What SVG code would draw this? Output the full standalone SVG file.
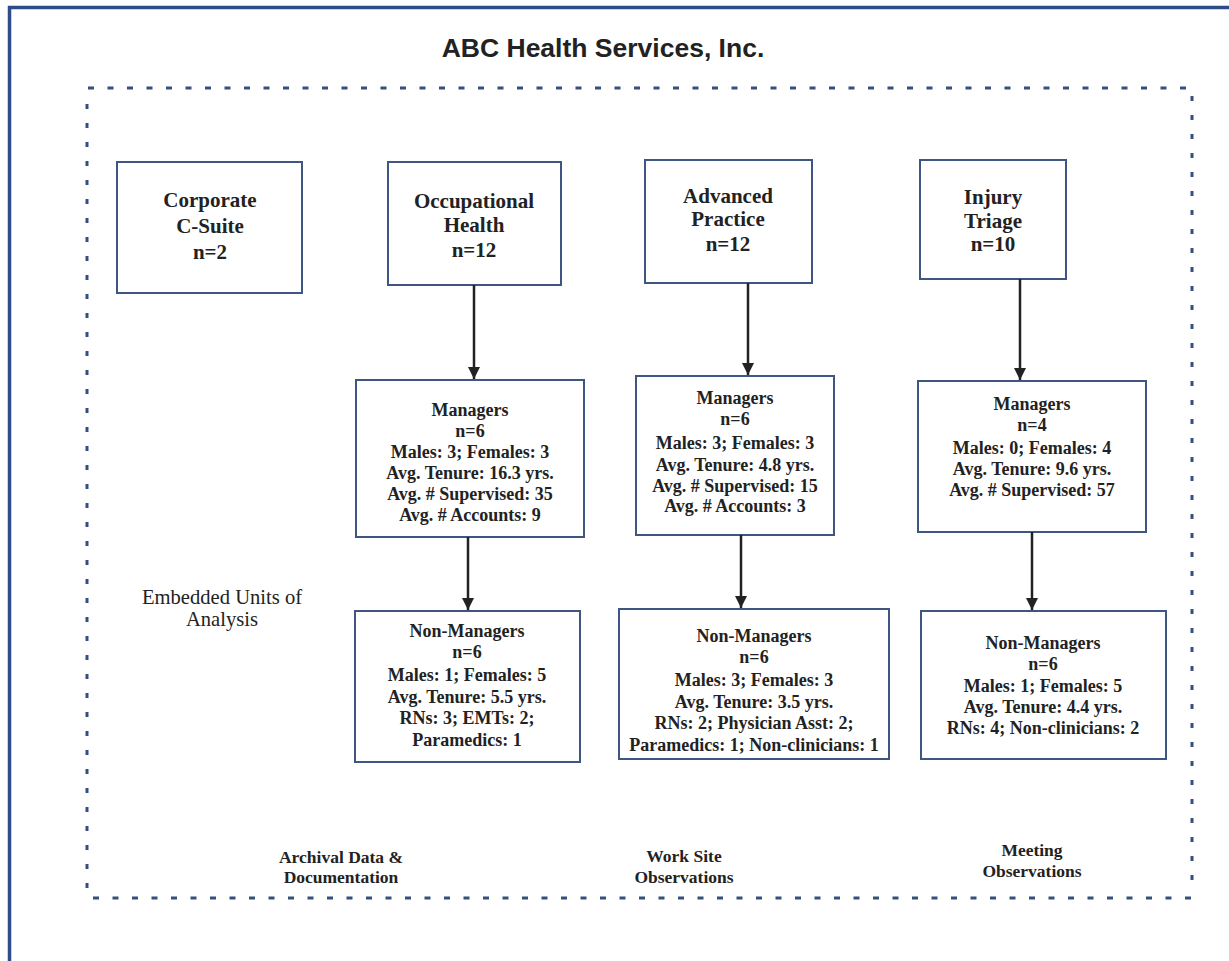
<svg xmlns="http://www.w3.org/2000/svg" width="1229" height="961" viewBox="0 0 1229 961">
<style>
.box{fill:#ffffff;stroke:#3f5683;stroke-width:2}
.t{font-family:"Liberation Serif","Times New Roman",serif;font-weight:bold;fill:#222;text-anchor:middle}
.h{font-size:21px}
.b{font-size:18px}
.s{font-size:17.5px}
.r{font-family:"Liberation Serif","Times New Roman",serif;font-size:20.6px;fill:#222;text-anchor:middle}
.title{font-family:"Liberation Sans",Arial,sans-serif;font-weight:bold;font-size:26.5px;fill:#222;text-anchor:middle}
.dh{stroke:#34507f;stroke-width:3;stroke-dasharray:6 13.5;fill:none}
.dv{stroke:#34507f;stroke-width:3;stroke-dasharray:5 14;fill:none}
.conn{stroke:#222;stroke-width:2.5;fill:none;marker-end:url(#ah)}
</style>
<defs>
<marker id="ah" viewBox="0 0 10 10" refX="10" refY="5" markerWidth="5" markerHeight="5" orient="auto" markerUnits="strokeWidth">
<path d="M0,0 L10,5 L0,10 z" fill="#222"/>
</marker>
</defs>
<rect x="0" y="0" width="1229" height="961" fill="#ffffff"/>
<rect x="9.5" y="7.5" width="1240" height="980" fill="none" stroke="#2e4c88" stroke-width="3.5"/>
<text class="title" x="603" y="57">ABC Health Services, Inc.</text>
<g id="frame">
<line class="dh" x1="88" y1="88" x2="1192" y2="88"/>
<line class="dh" x1="93" y1="898" x2="1192" y2="898"/>
<line class="dv" x1="87" y1="104" x2="87" y2="898"/>
<line class="dv" x1="1192" y1="96" x2="1192" y2="892"/>
</g>
<g id="corporate">
<rect class="box" x="117" y="162" width="185" height="131"/>
<text class="t h" x="210" y="207">Corporate</text>
<text class="t h" x="210" y="233">C-Suite</text>
<text class="t h" x="210" y="259">n=2</text>
</g>
<g id="occ-health">
<rect class="box" x="388" y="162" width="173" height="123"/>
<text class="t h" x="474" y="208">Occupational</text>
<text class="t h" x="474" y="232">Health</text>
<text class="t h" x="474" y="257">n=12</text>
</g>
<g id="adv-practice">
<rect class="box" x="645" y="160" width="167" height="123"/>
<text class="t h" x="728" y="203">Advanced</text>
<text class="t h" x="728" y="226">Practice</text>
<text class="t h" x="728" y="251">n=12</text>
</g>
<g id="injury-triage">
<rect class="box" x="920" y="160" width="146" height="119"/>
<text class="t h" x="993" y="204">Injury</text>
<text class="t h" x="993" y="228">Triage</text>
<text class="t h" x="993" y="251">n=10</text>
</g>
<g id="oh-managers">
<rect class="box" x="356" y="380" width="228" height="157"/>
<text class="t b" x="470" y="416">Managers</text>
<text class="t b" x="470" y="437">n=6</text>
<text class="t b" x="470" y="458">Males: 3; Females: 3</text>
<text class="t b" x="470" y="479">Avg. Tenure: 16.3 yrs.</text>
<text class="t b" x="470" y="500">Avg. # Supervised: 35</text>
<text class="t b" x="470" y="521">Avg. # Accounts: 9</text>
</g>
<g id="ap-managers">
<rect class="box" x="636" y="376" width="198" height="159"/>
<text class="t b" x="735" y="404">Managers</text>
<text class="t b" x="735" y="425">n=6</text>
<text class="t b" x="735" y="449">Males: 3; Females: 3</text>
<text class="t b" x="735" y="471">Avg. Tenure: 4.8 yrs.</text>
<text class="t b" x="735" y="492">Avg. # Supervised: 15</text>
<text class="t b" x="735" y="512">Avg. # Accounts: 3</text>
</g>
<g id="it-managers">
<rect class="box" x="918" y="381" width="228" height="151"/>
<text class="t b" x="1032" y="410">Managers</text>
<text class="t b" x="1032" y="431">n=4</text>
<text class="t b" x="1032" y="454">Males: 0; Females: 4</text>
<text class="t b" x="1032" y="475">Avg. Tenure: 9.6 yrs.</text>
<text class="t b" x="1032" y="496">Avg. # Supervised: 57</text>
</g>
<g id="oh-nonmanagers">
<rect class="box" x="355" y="611" width="225" height="151"/>
<text class="t b" x="467" y="637">Non-Managers</text>
<text class="t b" x="467" y="658">n=6</text>
<text class="t b" x="467" y="681">Males: 1; Females: 5</text>
<text class="t b" x="467" y="703">Avg. Tenure: 5.5 yrs.</text>
<text class="t b" x="467" y="724">RNs: 3; EMTs: 2;</text>
<text class="t b" x="467" y="746">Paramedics: 1</text>
</g>
<g id="ap-nonmanagers">
<rect class="box" x="619" y="609" width="270" height="150"/>
<text class="t b" x="754" y="642">Non-Managers</text>
<text class="t b" x="754" y="663">n=6</text>
<text class="t b" x="754" y="686">Males: 3; Females: 3</text>
<text class="t b" x="754" y="708">Avg. Tenure: 3.5 yrs.</text>
<text class="t b" x="754" y="729">RNs: 2; Physician Asst: 2;</text>
<text class="t b" x="754" y="751">Paramedics: 1; Non-clinicians: 1</text>
</g>
<g id="it-nonmanagers">
<rect class="box" x="921" y="611" width="245" height="148"/>
<text class="t b" x="1043" y="649">Non-Managers</text>
<text class="t b" x="1043" y="670">n=6</text>
<text class="t b" x="1043" y="692">Males: 1; Females: 5</text>
<text class="t b" x="1043" y="713">Avg. Tenure: 4.4 yrs.</text>
<text class="t b" x="1043" y="734">RNs: 4; Non-clinicians: 2</text>
</g>
<g id="connectors">
<line class="conn" x1="474" y1="285" x2="474" y2="379"/>
<line class="conn" x1="468" y1="537" x2="468" y2="610"/>
<line class="conn" x1="748" y1="283" x2="748" y2="375"/>
<line class="conn" x1="741" y1="535" x2="741" y2="608"/>
<line class="conn" x1="1020" y1="279" x2="1020" y2="380"/>
<line class="conn" x1="1032" y1="532" x2="1032" y2="610"/>
</g>
<g id="labels">
<text class="r" x="222" y="604">Embedded Units of</text>
<text class="r" x="222" y="626">Analysis</text>
<text class="t s" x="341" y="863">Archival Data &amp;</text>
<text class="t s" x="341" y="883">Documentation</text>
<text class="t s" x="684" y="862">Work Site</text>
<text class="t s" x="684" y="883">Observations</text>
<text class="t s" x="1032" y="856">Meeting</text>
<text class="t s" x="1032" y="877">Observations</text>
</g>
</svg>
